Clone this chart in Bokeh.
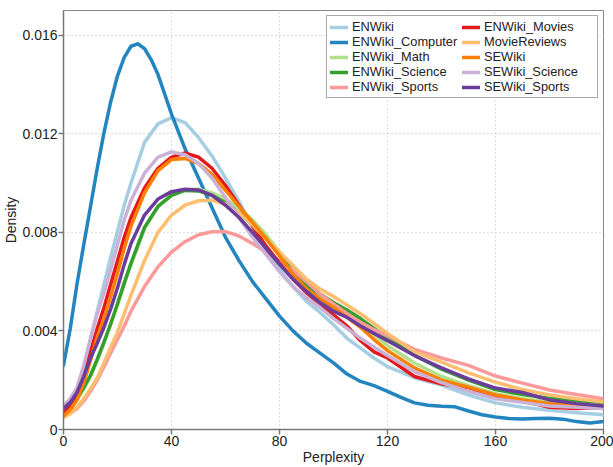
from bokeh.plotting import figure
from bokeh.models import Legend, LegendItem, FixedTicker, CustomJSTickFormatter, Range1d
from bokeh.embed import file_html
from bokeh.resources import INLINE

# x grid (Perplexity) shared by most series
x_common = [0, 2.5, 5, 7.5, 10, 12.5, 15, 17.5, 20, 22.5, 25, 30, 35, 40, 45, 50, 55, 60, 65, 70, 75,
            80, 85, 90, 95, 100, 105, 110, 115, 120, 130, 140, 150, 160, 170, 180, 190, 200]

# densities in units of 1e-3
enwiki = [0.6, 0.95, 1.55, 2.5, 3.65, 4.8, 5.9, 7.0, 8.05, 9.1, 10.0, 11.65, 12.4, 12.65, 12.45, 11.85, 11.1,
          10.2, 9.25, 8.25, 7.3, 6.5, 5.8, 5.2, 4.75, 4.25, 3.7, 3.3, 2.9, 2.55, 2.1, 1.8, 1.4, 1.08, 0.9,
          0.78, 0.68, 0.6]
enwiki_math = [0.6, 0.85, 1.2, 1.65, 2.15, 2.8, 3.5, 4.25, 5.05, 5.9, 6.7, 8.15, 9.05, 9.5, 9.72, 9.75, 9.6,
               9.35, 9.0, 8.5, 7.9, 7.2, 6.5, 5.85, 5.4, 5.0, 4.65, 4.3, 3.85, 3.4, 2.7, 2.15, 1.78, 1.45,
               1.25, 1.12, 1.03, 0.95]
enwiki_science = [0.65, 0.9, 1.25, 1.7, 2.2, 2.85, 3.55, 4.3, 5.1, 5.95, 6.75, 8.2, 9.05, 9.5, 9.7, 9.68, 9.5,
                  9.2, 8.8, 8.3, 7.75, 7.1, 6.45, 5.85, 5.5, 5.15, 4.85, 4.5, 4.1, 3.72, 3.0, 2.45, 2.0, 1.62,
                  1.42, 1.27, 1.18, 1.1]
enwiki_sports = [0.5, 0.65, 0.85, 1.15, 1.55, 2.0, 2.55, 3.1, 3.65, 4.2, 4.8, 5.8, 6.6, 7.2, 7.62, 7.9, 8.02,
                 8.03, 7.85, 7.55, 7.2, 6.85, 6.45, 6.0, 5.5, 5.1, 4.7, 4.35, 4.05, 3.8, 3.25, 2.9, 2.6, 2.17,
                 1.88, 1.6, 1.42, 1.25]
enwiki_movies = [0.7, 1.0, 1.45, 2.2, 3.15, 4.1, 4.95, 5.9, 6.85, 7.8, 8.6, 9.8, 10.6, 11.05, 11.22, 11.05, 10.6,
                 9.9, 9.1, 8.25, 7.45, 6.75, 6.1, 5.55, 5.08, 4.65, 4.2, 3.6, 3.15, 2.9, 2.15, 1.85, 1.7, 1.3,
                 1.15, 0.9, 0.85, 0.9]
moviereviews = [0.5, 0.65, 0.9, 1.25, 1.65, 2.1, 2.7, 3.35, 3.95, 4.7, 5.45, 6.85, 8.0, 8.7, 9.1, 9.28, 9.3,
                9.15, 8.8, 8.3, 7.75, 7.2, 6.65, 6.1, 5.7, 5.4, 5.05, 4.7, 4.3, 3.9, 3.15, 2.73, 2.3, 1.92,
                1.62, 1.4, 1.25, 1.12]
sewiki = [0.55, 0.8, 1.2, 1.9, 2.8, 3.75, 4.5, 5.4, 6.35, 7.35, 8.25, 9.6, 10.5, 10.95, 11.0, 10.8, 10.35,
          9.7, 9.05, 8.4, 7.75, 7.05, 6.3, 5.7, 5.3, 4.95, 4.55, 4.15, 3.65, 3.2, 2.5, 2.0, 1.72, 1.4, 1.2,
          1.05, 0.95, 0.85]
sewiki_science = [0.95, 1.25, 1.7, 2.6, 3.7, 4.7, 5.55, 6.5, 7.5, 8.5, 9.3, 10.4, 11.05, 11.26, 11.15, 10.8, 10.2,
                  9.4, 8.6, 7.8, 7.1, 6.4, 5.8, 5.35, 4.95, 4.5, 4.1, 3.7, 3.35, 3.0, 2.35, 1.9, 1.55, 1.25,
                  1.1, 0.95, 0.9, 0.85]
sewiki_sports = [0.85, 1.1, 1.5, 2.15, 2.9, 3.5, 4.15, 4.9, 5.75, 6.7, 7.55, 8.7, 9.35, 9.65, 9.75, 9.72, 9.5,
                 9.1, 8.6, 8.0, 7.35, 6.7, 6.1, 5.6, 5.15, 4.8, 4.55, 4.2, 3.9, 3.6, 3.0, 2.5, 2.05, 1.68,
                 1.5, 1.2, 1.05, 0.95]

x_computer = [0, 2.5, 5, 7.5, 10, 12.5, 15, 17.5, 20, 22.5, 25, 27.5, 30, 32.5, 35, 37.5, 40, 45, 50, 55,
              60, 65, 70, 75, 80, 85, 90, 95, 100, 105, 110, 115, 120, 125, 130, 135, 140, 145, 150, 155,
              160, 165, 170, 175, 180, 185, 190, 195, 200]
enwiki_computer = [2.6, 4.1, 5.9, 7.5, 9.05, 10.6, 12.05, 13.3, 14.35, 15.1, 15.55, 15.65, 15.45, 15.0, 14.4,
                   13.6, 12.8, 11.4, 10.2, 9.0, 7.8, 6.85, 6.0, 5.3, 4.6, 4.0, 3.5, 3.1, 2.7, 2.25, 1.95,
                   1.78, 1.55, 1.3, 1.08, 0.98, 0.94, 0.92, 0.75, 0.6, 0.51, 0.45, 0.43, 0.45, 0.46, 0.42,
                   0.32, 0.26, 0.32]

series_names = ["ENWiki", "ENWiki_Computer", "ENWiki_Math", "ENWiki_Science", "ENWiki_Sports",
                "ENWiki_Movies", "MovieReviews", "SEWiki", "SEWiki_Science", "SEWiki_Sports"]
series_x = [x_common, x_computer, x_common, x_common, x_common,
            x_common, x_common, x_common, x_common, x_common]
series_y = [enwiki, enwiki_computer, enwiki_math, enwiki_science, enwiki_sports,
            enwiki_movies, moviereviews, sewiki, sewiki_science, sewiki_sports]
colors = ["#a6cee3", "#2385c0", "#b2df8a", "#33a02c", "#fb9a99",
          "#e31a1c", "#fdbf6f", "#ff7f00", "#cab2d6", "#6a3d9a"]

x_ticks = [0, 40, 80, 120, 160, 200]
y_ticks = [0, 0.004, 0.008, 0.012, 0.016]
x_label = "Perplexity"
y_label = "Density"

FONT = "Liberation Sans"

p = figure(width=613, height=467, output_backend="svg", toolbar_location=None,
           x_range=Range1d(0, 200), y_range=Range1d(0, 0.017),
           min_border_left=40, min_border_right=10, min_border_top=10, min_border_bottom=20)
p.background_fill_color = "white"
p.border_fill_color = "white"
p.outline_line_color = "#888888"
p.outline_line_width = 1

items = []
for name, xs, ys, c in zip(series_names, series_x, series_y, colors):
    r = p.line(list(xs), [v / 1000.0 for v in ys], line_color=c, line_width=3.5,
               line_join="round", line_cap="round")
    items.append(LegendItem(label=name, renderers=[r]))

p.xaxis.ticker = FixedTicker(ticks=x_ticks)
p.yaxis.ticker = FixedTicker(ticks=y_ticks)
p.yaxis.formatter = CustomJSTickFormatter(code="return tick == 0 ? '0' : tick.toFixed(3);")

for ax in (p.xaxis, p.yaxis):
    ax.axis_line_color = "#777777"
    ax.axis_line_width = 1.5
    ax.major_tick_line_color = "#777777"
    ax.major_tick_line_width = 1.5
    ax.major_tick_out = 5
    ax.major_tick_in = 0
    ax.minor_tick_line_color = None
    ax.major_label_text_font = FONT
    ax.major_label_text_font_size = "14px"
    ax.major_label_text_color = "#222222"
    ax.axis_label_text_font = FONT
    ax.axis_label_text_font_size = "14px"
    ax.axis_label_text_font_style = "normal"
    ax.axis_label_text_color = "#222222"
    ax.major_label_standoff = 1
    ax.axis_label_standoff = 0

p.xaxis.axis_label = x_label
p.yaxis.axis_label = y_label

for g in (p.xgrid, p.ygrid):
    g.grid_line_color = "#bbbbbb"
    g.grid_line_dash = "1 3"
    g.grid_line_width = 1

legend = Legend(items=items, ncols=2, location="top_right", orientation="vertical")
legend.label_text_font = FONT
legend.label_text_font_size = "12.8px"
legend.label_text_color = "#222222"
legend.border_line_color = "#555555"
legend.border_line_width = 1
legend.background_fill_alpha = 1.0
legend.glyph_width = 18
legend.glyph_height = 14
legend.label_height = 14
legend.label_width = 110
legend.label_standoff = 4
legend.spacing = 0
legend.padding = 3
legend.margin = 5
p.add_layout(legend)

open("out.html", "w").write(file_html(p, INLINE))
